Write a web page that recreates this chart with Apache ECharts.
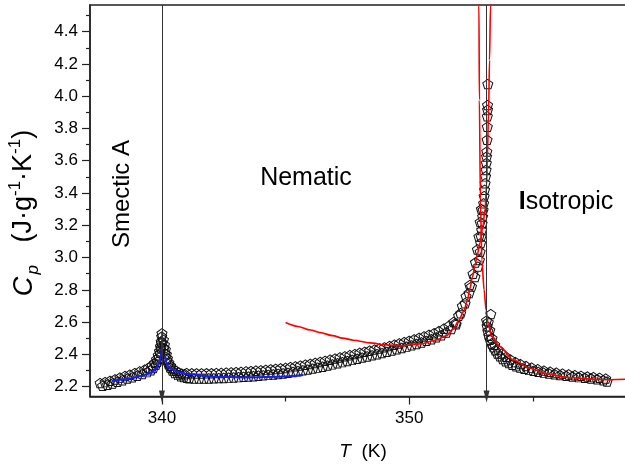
<!DOCTYPE html>
<html>
<head>
  <meta charset="utf-8">
  <script src="https://cdn.jsdelivr.net/npm/echarts@6/dist/echarts.min.js"></script>
  <style>
    html, body { margin: 0; padding: 0; background: #fff; }
  </style>
</head>
<body>
  <div id="main" style="width: 625px;height:464px;"></div>
  <script type="text/javascript">
    // axis ranges and ticks
    var xMin = 337.09, xMax = 359.0;
    var yMin = 2.139, yMax = 4.565;
    var xLabels = [340, 350];
    var xMinorTicks = [345, 355];
    var yLabels = [2.2, 2.4, 2.6, 2.8, 3.0, 3.2, 3.4, 3.6, 3.8, 4.0, 4.2, 4.4];
    var yMinorTicks = [2.3, 2.5, 2.7, 2.9, 3.1, 3.3, 3.5, 3.7, 3.9, 4.1, 4.3, 4.5];

    // transition temperatures (arrows)
    var transitions = [340.0, 353.13];

    // measured Cp, smectic A -> nematic region
    var smecticUpper = [[337.5,2.222],[337.7,2.228],[337.9,2.236],[338.1,2.245],[338.3,2.256],[338.5,2.266],[338.7,2.274],[338.9,2.284],[339.1,2.294],[339.3,2.305],[339.45,2.316],[339.6,2.332],[339.7,2.348],[339.78,2.37],[339.85,2.395],[339.9,2.42],[339.94,2.45],[339.97,2.48],[339.99,2.51],[340.0,2.53],[340.06,2.49],[340.1,2.46],[340.14,2.43],[340.18,2.40],[340.22,2.375],[340.28,2.35],[340.35,2.33],[340.45,2.312],[340.56,2.298],[340.68,2.288],[340.8,2.281],[340.92,2.277]];
    var smecticLower = [[337.6,2.205],[337.8,2.212],[338.0,2.22],[338.2,2.23],[338.4,2.24],[338.6,2.25],[338.8,2.258],[339.0,2.268],[339.2,2.278],[339.4,2.29],[339.55,2.302],[339.65,2.316],[339.75,2.335],[339.82,2.355],[339.88,2.38],[339.93,2.41],[339.96,2.44],[339.98,2.47],[340.08,2.44],[340.13,2.405],[340.2,2.365],[340.26,2.34],[340.33,2.318],[340.42,2.30],[340.52,2.285],[340.64,2.273],[340.76,2.265],[340.88,2.259],[341.0,2.255]];

    // nematic range
    var nematicUpper = [[341.0,2.284],[341.2,2.283],[341.4,2.282],[341.6,2.282],[341.8,2.283],[342.0,2.283],[342.2,2.284],[342.4,2.285],[342.6,2.287],[342.8,2.288],[343.0,2.290],[343.2,2.292],[343.4,2.294],[343.6,2.296],[343.8,2.299],[344.0,2.301],[344.2,2.304],[344.4,2.307],[344.6,2.310],[344.8,2.313],[345.0,2.316],[345.2,2.321],[345.4,2.326],[345.6,2.331],[345.8,2.336],[346.0,2.341],[346.2,2.347],[346.4,2.353],[346.6,2.360],[346.8,2.367],[347.0,2.374],[347.2,2.381],[347.4,2.388],[347.6,2.395],[347.8,2.402],[348.0,2.409],[348.2,2.416],[348.4,2.423],[348.6,2.430],[348.8,2.437],[349.0,2.444],[349.2,2.452],[349.4,2.460],[349.6,2.468],[349.8,2.476],[350.0,2.484],[350.2,2.493],[350.4,2.502],[350.6,2.511],[350.8,2.521],[351.0,2.531],[351.2,2.544],[351.4,2.559],[351.6,2.576],[351.8,2.601]];
    var nematicLower = [[341.1,2.252],[341.3,2.251],[341.5,2.250],[341.7,2.250],[341.9,2.251],[342.1,2.252],[342.3,2.253],[342.5,2.254],[342.7,2.256],[342.9,2.257],[343.1,2.259],[343.3,2.261],[343.5,2.263],[343.7,2.265],[343.9,2.268],[344.1,2.270],[344.3,2.273],[344.5,2.276],[344.7,2.279],[344.9,2.282],[345.1,2.286],[345.3,2.291],[345.5,2.296],[345.7,2.301],[345.9,2.306],[346.1,2.312],[346.3,2.318],[346.5,2.324],[346.7,2.331],[346.9,2.338],[347.1,2.345],[347.3,2.352],[347.5,2.359],[347.7,2.366],[347.9,2.373],[348.1,2.380],[348.3,2.387],[348.5,2.394],[348.7,2.401],[348.9,2.408],[349.1,2.416],[349.3,2.424],[349.5,2.432],[349.7,2.440],[349.9,2.448],[350.1,2.456],[350.3,2.465],[350.5,2.474],[350.7,2.484],[350.9,2.494],[351.1,2.506],[351.3,2.519],[351.5,2.536],[351.7,2.557],[351.9,2.586]];

    // steep rise up to the nematic -> isotropic transition
    var peakMain = [[351.88,2.593],[352.08,2.655],[352.26,2.717],[352.42,2.78],[352.52,2.82],[352.66,2.88],[352.78,2.944],[352.84,2.985],[352.87,3.036],[352.89,3.09],[352.91,3.13],[352.93,3.17],[352.95,3.212],[352.97,3.254],[352.99,3.295],[353.01,3.336],[353.03,3.38],[353.05,3.42],[353.07,3.46],[353.09,3.503],[353.11,3.543],[353.12,3.586],[353.13,3.626],[353.14,3.657],[353.15,3.73],[353.16,3.81],[353.16,3.875],[353.17,3.915],[353.17,3.945],[353.18,4.075]];
    var peakSide = [[352.0,2.64],[352.15,2.70],[352.3,2.76],[352.45,2.83],[352.58,2.90],[352.68,2.97],[352.76,3.05],[352.82,3.13],[352.87,3.22],[352.92,3.30]];

    // isotropic range
    var isoUpper = [[353.30,2.650],[353.20,2.60],[353.26,2.55],[353.35,2.50],[353.46,2.46],[353.60,2.43],[353.75,2.405],[353.92,2.385],[354.10,2.368],[354.30,2.352],[354.50,2.34],[354.72,2.328],[354.95,2.318],[355.2,2.308],[355.45,2.30],[355.7,2.293],[355.95,2.287],[356.2,2.281],[356.45,2.276],[356.7,2.271],[356.95,2.267],[357.2,2.263],[357.45,2.259],[357.7,2.255],[357.95,2.25]];
    var isoLower = [[353.13,2.610],[353.15,2.575],[353.18,2.545],[353.22,2.515],[353.27,2.49],[353.33,2.468],[353.40,2.445],[353.48,2.425],[353.57,2.405],[353.67,2.388],[353.78,2.372],[353.90,2.358],[354.03,2.346],[354.17,2.336],[354.32,2.327],[354.48,2.318],[354.65,2.311],[354.83,2.304],[355.02,2.298],[355.22,2.292],[355.43,2.287],[355.65,2.282],[355.88,2.277],[356.10,2.272],[356.35,2.267],[356.60,2.263],[356.85,2.259],[357.10,2.255],[357.35,2.251],[357.60,2.246],[357.85,2.240],[358.0,2.232]];

    // fitted curves
    var smecticFitLow = [[337.98,2.235],[338.62,2.248],[339.16,2.266],[339.57,2.287],[339.77,2.314],[339.91,2.355],[339.97,2.40],[340.0,2.45],[340.01,2.54]];
    var smecticFitHigh = [[340.13,2.386],[340.21,2.334],[340.3,2.316],[340.46,2.303],[340.7,2.29],[341.0,2.279],[342.08,2.262],[343.43,2.257],[344.77,2.262],[345.7,2.272]];
    var nematicFit = [[345.0,2.597],[345.5,2.573],[346.0,2.551],[346.4,2.535],[346.9,2.516],[347.3,2.501],[347.75,2.488],[348.4,2.471],[349.1,2.458],[349.75,2.454],[350.45,2.465],[351.1,2.489],[351.5,2.515],[351.8,2.56],[352.0,2.61],[352.2,2.665],[352.35,2.73],[352.46,2.81],[352.56,2.88],[352.66,2.95],[352.76,3.02],[352.86,3.09],[352.97,3.18],[353.07,3.30],[353.13,3.45],[353.16,3.605],[353.21,3.90],[353.25,4.224],[353.29,4.565],[353.30,4.7]];
    var isoFit = [[352.81,4.7],[352.82,4.565],[352.84,3.976],[352.88,3.357],[352.94,2.985],[353.03,2.80],[353.11,2.675],[353.20,2.582],[353.34,2.51],[353.67,2.448],[354.21,2.365],[354.89,2.314],[355.56,2.279],[356.37,2.258],[357.18,2.248],[357.99,2.243],[358.73,2.246],[359.0,2.248]];

    var pentagon = 'path://M50,0 L97.6,34.5 L79.4,90.5 L20.6,90.5 L2.4,34.5 Z';
    var font = 'Liberation Sans, Arial, sans-serif';

    var chart = echarts.init(document.getElementById("main"));

    var measured = [].concat(smecticLower, smecticUpper, nematicLower, nematicUpper,
      peakSide, peakMain, isoLower, isoUpper);

    var option = {
      animation: false,
      grid: {
        left: 90, top: 5, width: 541.7, height: 391.5,
        outerBoundsMode: 'none', containLabel: false,
        show: true, borderColor: '#222', borderWidth: 1.5
      },
      xAxis: [{
        type: 'value', min: xMin, max: xMax,
        splitLine: { show: false },
        axisLine: { lineStyle: { color: '#222', width: 1.5 } },
        axisTick: { customValues: xLabels, length: 8, lineStyle: { color: '#222', width: 1.2 } },
        axisLabel: { customValues: xLabels, color: '#000', fontSize: 17, fontFamily: font, margin: 13 }
      }, {
        type: 'value', min: xMin, max: xMax, position: 'bottom',
        splitLine: { show: false },
        axisLine: { show: false },
        axisTick: { customValues: xMinorTicks, length: 5, lineStyle: { color: '#222', width: 1.2 } },
        axisLabel: { show: false }
      }],
      yAxis: [{
        type: 'value', min: yMin, max: yMax,
        splitLine: { show: false },
        axisLine: { show: true, lineStyle: { color: '#222', width: 1.5 } },
        axisTick: { show: true, customValues: yLabels, length: 8, lineStyle: { color: '#222', width: 1.2 } },
        axisLabel: {
          customValues: yLabels, color: '#000', fontSize: 17, fontFamily: font, margin: 12,
          formatter: function (v) { return v.toFixed(1); }
        }
      }, {
        type: 'value', min: yMin, max: yMax, position: 'left',
        splitLine: { show: false },
        axisLine: { show: false },
        axisTick: { show: true, customValues: yMinorTicks, length: 4, lineStyle: { color: '#222', width: 1.2 } },
        axisLabel: { show: false }
      }],
      series: [{
        type: 'scatter',
        data: measured,
        symbol: pentagon,
        symbolSize: [10, 9.5],
        itemStyle: { color: 'rgba(255,255,255,0)', borderColor: '#111', borderWidth: 1, opacity: 1 },
        z: 2, silent: true
      }, {
        type: 'line', data: smecticFitLow, showSymbol: false, smooth: 0.3, smoothMonotone: 'x',
        lineStyle: { color: '#1a1aff', width: 2 }, z: 3, silent: true
      }, {
        type: 'line', data: smecticFitHigh, showSymbol: false, smooth: 0.3, smoothMonotone: 'x',
        lineStyle: { color: '#1a1aff', width: 2 }, z: 3, silent: true
      }, {
        type: 'line', data: nematicFit, showSymbol: false, smooth: 0.3, smoothMonotone: 'x',
        lineStyle: { color: '#ff0000', width: 1.6 }, z: 3, silent: true
      }, {
        type: 'line', data: isoFit, showSymbol: false, smooth: 0.3, smoothMonotone: 'x',
        lineStyle: { color: '#ff0000', width: 1.6 }, z: 3, silent: true
      }, {
        type: 'line', data: [], z: 4,
        markLine: {
          silent: true, animation: false,
          symbol: ['none', 'triangle'], symbolSize: [6, 12],
          label: { show: false },
          lineStyle: { color: '#333', width: 1, type: 'solid' },
          data: transitions.map(function (t) {
            return [{ coord: [t, yMax] }, { coord: [t, yMin] }];
          })
        }
      }],
      graphic: [{
        type: 'text', x: 24, y: 213, rotation: Math.PI / 2,
        style: {
          text: '{c|C}{g| }{p|p}{n|   (J·g}{u|-1}{n|·K}{u|-1}{n|)}',
          align: 'center', verticalAlign: 'middle', fill: '#000',
          rich: {
            c: { fontSize: 27, fontStyle: 'italic', fontFamily: font, lineHeight: 35 },
            g: { fontSize: 8, fontFamily: font, lineHeight: 35 },
            p: { fontSize: 17, fontStyle: 'italic', fontFamily: font, lineHeight: 17, verticalAlign: 'bottom' },
            n: { fontSize: 27, fontFamily: font, lineHeight: 35 },
            u: { fontSize: 17, fontFamily: font, lineHeight: 17, verticalAlign: 'top' }
          }
        }
      }, {
        type: 'text', x: 363, y: 452,
        style: {
          text: '{i|T}{n|  (K)}', align: 'center', verticalAlign: 'middle', fill: '#000',
          rich: {
            i: { fontSize: 19, fontStyle: 'italic', fontFamily: font },
            n: { fontSize: 19, fontFamily: font }
          }
        }
      }, {
        type: 'text', x: 122, y: 194, rotation: Math.PI / 2,
        style: { text: 'Smectic A', align: 'center', verticalAlign: 'middle', fill: '#000', fontSize: 24, fontFamily: font }
      }, {
        type: 'text', x: 306, y: 178,
        style: { text: 'Nematic', align: 'center', verticalAlign: 'middle', fill: '#000', fontSize: 25, fontFamily: font }
      }, {
        type: 'text', x: 566, y: 202,
        style: {
          text: '{b|I}{n|sotropic}', align: 'center', verticalAlign: 'middle', fill: '#000',
          rich: {
            b: { fontSize: 25, fontWeight: 'bold', fontFamily: font },
            n: { fontSize: 25, fontFamily: font }
          }
        }
      }]
    };
    chart.setOption(option);
  </script>
</body>
</html>
